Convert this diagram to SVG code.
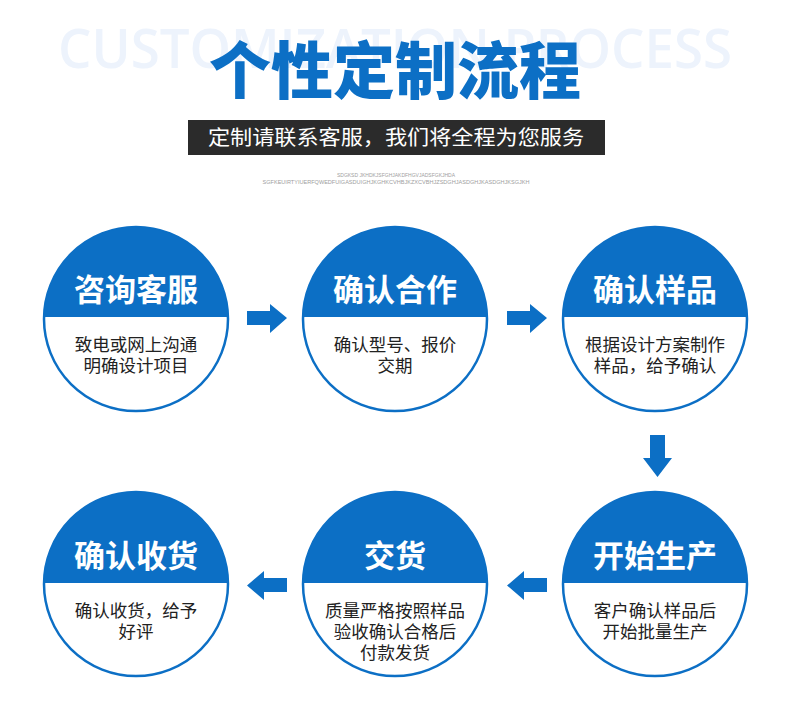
<svg xmlns="http://www.w3.org/2000/svg" width="790" height="707" viewBox="0 0 790 707">
<defs>
<style>
.bg{font-family:"Open Sans","Liberation Sans",sans-serif;font-weight:600;fill:#edf3fc;font-size:54px}
.title{font-family:"Noto Sans CJK SC",sans-serif;font-weight:900;fill:#0c6fc5;font-size:62px}
.sub{font-family:"Noto Sans CJK SC",sans-serif;fill:#ffffff;font-size:20px}
.tiny{font-family:"Liberation Sans",sans-serif;fill:#a0a0a0;font-size:5px}
.ring{fill:#ffffff;stroke:#0c6fc5;stroke-width:2.5}
.cap{fill:#0c6fc5}
.head{font-family:"Noto Sans CJK SC",sans-serif;font-weight:700;fill:#ffffff;font-size:31px;text-anchor:middle}
.body{font-family:"Noto Sans CJK SC",sans-serif;fill:#222222;font-size:17.5px;text-anchor:middle}
.arrow{fill:#0c6fc5}
</style>
</defs>
<rect width="790" height="707" fill="#ffffff"/>
<text class="bg" x="58" y="68" textLength="674" lengthAdjust="spacingAndGlyphs">CUSTOMIZATION PROCESS</text>
<text class="title" x="395" y="94" text-anchor="middle" textLength="372" lengthAdjust="spacingAndGlyphs">个性定制流程</text>
<rect x="188" y="120" width="417" height="35" fill="#2b2b2b"/>
<text class="sub" x="396" y="145" text-anchor="middle" textLength="376" lengthAdjust="spacingAndGlyphs">定制请联系客服，我们将全程为您服务</text>
<text class="tiny" x="396" y="177" text-anchor="middle">SDGKSD JKHDKJSFGHJAKDFHGVJADSFGKJHDA</text>
<text class="tiny" x="396" y="184" text-anchor="middle" textLength="267" lengthAdjust="spacingAndGlyphs">SGFKEUIRTYIUERFQWEDFUIGASDUIGHJKGHKCVHBJKZXCVBHJZSDGHJASDGHJKASDGHJKSGJKH</text>

<g id="connectors">
<path class="arrow" d="M247,311 H270 V304 L287,318 L270,333 V325 H247 Z"/>
<path class="arrow" d="M507,311 H530 V304 L547,318 L530,333 V325 H507 Z"/>
<path class="arrow" d="M650,435 H665 V458 H672 L657.5,477 L643,458 H650 Z"/>
<path class="arrow" d="M287,578 H264 V571 L247,585.5 L264,600 V592 H287 Z"/>
<path class="arrow" d="M547,578 H524 V571 L507,585.5 L524,600 V592 H547 Z"/>
</g>

<g id="node1">
<circle class="ring" cx="136" cy="319" r="92"/>
<path class="cap" d="M44.02,317 A92,92 0 0 1 227.98,317 Z"/>
<text class="head" x="136" y="301">咨询客服</text>
<text class="body" x="136" y="351">致电或网上沟通</text>
<text class="body" x="136" y="372">明确设计项目</text>
</g>
<g id="node2">
<circle class="ring" cx="395" cy="319" r="92"/>
<path class="cap" d="M303.02,317 A92,92 0 0 1 486.98,317 Z"/>
<text class="head" x="395" y="301">确认合作</text>
<text class="body" x="395" y="351">确认型号、报价</text>
<text class="body" x="395" y="372">交期</text>
</g>
<g id="node3">
<circle class="ring" cx="655" cy="319" r="92"/>
<path class="cap" d="M563.02,317 A92,92 0 0 1 746.98,317 Z"/>
<text class="head" x="655" y="301">确认样品</text>
<text class="body" x="655" y="351">根据设计方案制作</text>
<text class="body" x="655" y="372">样品，给予确认</text>
</g>
<g id="node4">
<circle class="ring" cx="136" cy="584" r="92"/>
<path class="cap" d="M44.01,583 A92,92 0 0 1 227.99,583 Z"/>
<text class="head" x="136" y="567">确认收货</text>
<text class="body" x="136" y="617">确认收货，给予</text>
<text class="body" x="136" y="638">好评</text>
</g>
<g id="node5">
<circle class="ring" cx="395" cy="584" r="92"/>
<path class="cap" d="M303.01,583 A92,92 0 0 1 486.99,583 Z"/>
<text class="head" x="395" y="567">交货</text>
<text class="body" x="395" y="617">质量严格按照样品</text>
<text class="body" x="395" y="638">验收确认合格后</text>
<text class="body" x="395" y="659">付款发货</text>
</g>
<g id="node6">
<circle class="ring" cx="655" cy="584" r="92"/>
<path class="cap" d="M563.01,583 A92,92 0 0 1 746.99,583 Z"/>
<text class="head" x="655" y="567">开始生产</text>
<text class="body" x="655" y="617">客户确认样品后</text>
<text class="body" x="655" y="638">开始批量生产</text>
</g>
</svg>
